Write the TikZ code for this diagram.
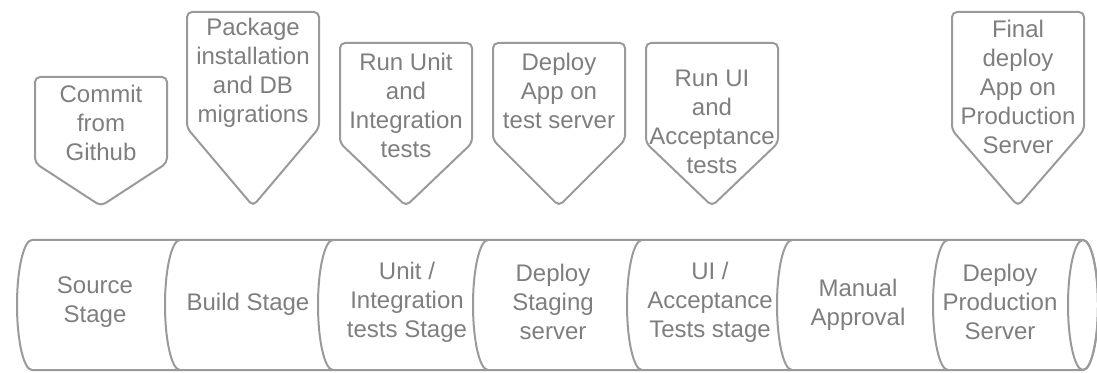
\documentclass[tikz,border=0pt]{standalone}
\usepackage{fontspec}
\setmainfont{Liberation Sans}
\usetikzlibrary{calc}

\definecolor{linegray}{HTML}{9A9A9A}
\definecolor{textgray}{HTML}{7E7E7E}

\tikzset{
	outline/.style={draw=linegray, line width=2pt},
	label/.style={text=textgray, align=center, inner sep=0pt,
		font=\fontsize{24}{29}\selectfont},
}

\begin{document}
\begin{tikzpicture}[x=1pt, y=1pt]
	\useasboundingbox (0,0) rectangle (1097,372);

	% callouts above the pipeline
	\foreach \n/\x/\t/\s/\ty/\txt in {
		commit/101/295/209/249/{Commit\\from\\Github},
		package/253/360/244/299/{Package\\installation\\and DB\\migrations},
		unittests/406/329/229/267/{Run Unit\\and\\Integration\\tests},
		deploytest/559/329/232/281/{Deploy\\App on\\test server},
		uitests/712/329/229/250/{Run UI\\and\\Acceptance\\tests},
		deployprod/1018/360/242/285/{Final\\deploy\\App on\\Production\\Server}}
	{
		\draw[outline, rounded corners=5pt] (\x-66,\s) -- (\x-66,\t) -- (\x+66,\t)
			-- (\x+66,\s) -- (\x,166) -- cycle;
		\node[label] (\n) at (\x,\ty) {\txt};
	}

	% pipeline
	\draw[outline] (32,132) -- (1083,132)
		arc[start angle=90, end angle=-90, x radius=15, y radius=65]
		-- (32,2) arc[start angle=270, end angle=90, x radius=15, y radius=65];
	\draw[outline] (1083,67) ellipse[x radius=15, y radius=65];
	\foreach \x in {180,333,488,642,792,948}
		\draw[outline] (\x,132) arc[start angle=90, end angle=270, x radius=15, y radius=65];

	\begin{scope}[every node/.style={label}]
		\node (source) at (95,70) {Source\\Stage};
		\node (build) at (248,68) {Build Stage};
		\node (unit) at (407,70) {Unit /\\Integration\\tests Stage};
		\node (staging) at (553,70) {Deploy\\Staging\\server};
		\node (ui) at (710,70) {UI /\\Acceptance\\Tests stage};
		\node (approval) at (858,67) {Manual\\Approval};
		\node (production) at (1000,70) {Deploy\\Production\\Server};
	\end{scope}
\end{tikzpicture}
\end{document}
